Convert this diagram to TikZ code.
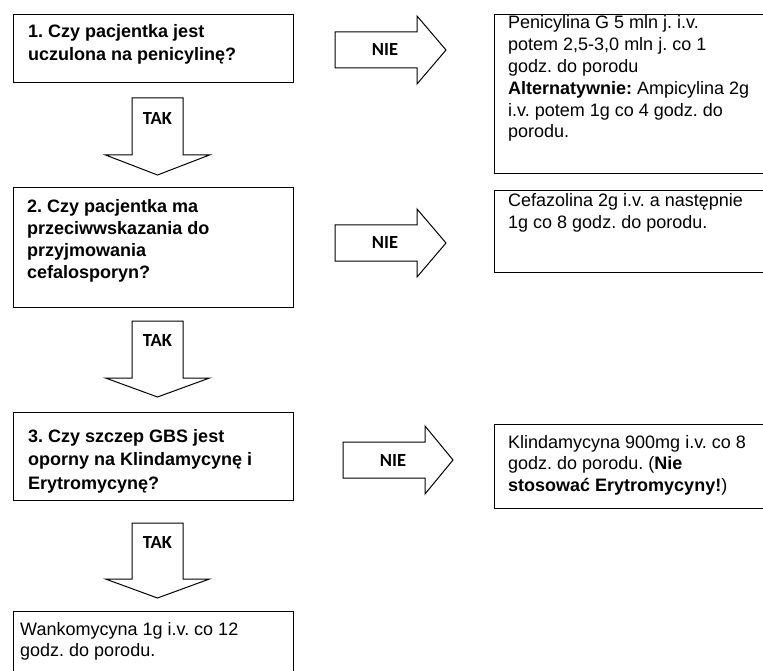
\documentclass[tikz,border=0pt]{standalone}
\usepackage{fontspec}
\setmainfont{Liberation Sans}
\newfontfamily\calfont{Carlito}
\frenchspacing
\newcommand{\boxfont}{\fontsize{18}{21.8}\selectfont}
\newcommand{\DownBlk}[4]{% x centre, y top, y head, y tip
  \draw[blk] (#1-25.5,#2) -- (#1+25.5,#2) -- (#1+25.5,#3) -- (#1+52,#3) -- (#1,#4) -- (#1-52,#3) -- (#1-25.5,#3) -- cycle;}
\newcommand{\RightBlk}[4]{% x left, x head, x tip, y centre
  \draw[blk] (#1,#4-18) -- (#2,#4-18) -- (#2,#4-34) -- (#3,#4) -- (#2,#4+34) -- (#2,#4+18) -- (#1,#4+18) -- cycle;}
\begin{document}
\begin{tikzpicture}[x=1pt,y=-1pt,
  box/.style={draw=black, line width=1pt, fill=white, inner sep=0pt, anchor=north west},
  blk/.style={draw=black, line width=1pt, fill=white, line join=miter},
  txt/.style={inner sep=0pt, anchor=base west, font=\boxfont},
  lbl/.style={inner sep=0pt, font=\calfont\bfseries\fontsize{18.5}{20}\selectfont}]
\clip (0,0) rectangle (763,671);
\fill[white] (0,0) rectangle (763,671);
% boxes
\node[box, minimum width=280pt, minimum height=68pt] (q1) at (13,14) {};
\node[box, minimum width=280pt, minimum height=120pt] (q2) at (13,187) {};
\node[box, minimum width=280pt, minimum height=88pt] (q3) at (13,412) {};
\node[box, minimum width=280pt, minimum height=80pt] (q4) at (13,611) {};
\node[box, minimum width=268.5pt, minimum height=159pt] (r1) at (494,14) {};
\node[box, minimum width=268.5pt, minimum height=82pt] (r2) at (494,190) {};
\node[box, minimum width=268.5pt, minimum height=84pt] (r3) at (494,424) {};
% texts
\node[txt] (q1t) at (28,38) {\parbox[t]{270pt}{\fontsize{18}{23}\selectfont\bfseries 1. Czy pacjentka jest\\uczulona na penicylinę?}};
\node[txt] (q2t) at (27,213) {\parbox[t]{270pt}{\bfseries 2. Czy pacjentka ma\\przeciwwskazania do\\przyjmowania\\cefalosporyn?}};
\node[txt] (q3t) at (28,442) {\parbox[t]{270pt}{\fontsize{18}{23.5}\selectfont\bfseries 3. Czy szczep GBS jest\\oporny na Klindamycynę i\\Erytromycynę?}};
\node[txt] (q4t) at (20,635) {\parbox[t]{270pt}{Wankomycyna 1g i.v. co 12\\godz. do porodu.}};
\node[txt] (r1t) at (508,29) {\parbox[t]{255pt}{Penicylina G 5 mln j. i.v.\\potem 2,5-3,0 mln j. co 1\\godz. do porodu\\\textbf{Alternatywnie:} Ampicylina 2g\\i.v. potem 1g co 4 godz. do\\porodu.}};
\node[txt] (r2t) at (508,207) {\parbox[t]{255pt}{Cefazolina 2g i.v. a następnie\\1g co 8 godz. do porodu.}};
\node[txt] (r3t) at (508,448) {\parbox[t]{255pt}{Klindamycyna 900mg i.v. co 8\\godz. do porodu. (\textbf{Nie}\\\textbf{stosować Erytromycyny!})}};
% block arrows
\DownBlk{157.5}{98}{155}{175}
\DownBlk{157.5}{321}{378}{397}
\DownBlk{157.5}{523}{579}{598}
\RightBlk{335}{417}{446}{50}
\RightBlk{335}{417}{446}{243}
\RightBlk{343}{425}{453}{460}
% labels
\node[lbl] (t1) at (157.5,119) {TAK};
\node[lbl] (t2) at (157.5,341) {TAK};
\node[lbl] (t3) at (157.5,542) {TAK};
\node[lbl] (n1) at (385,50) {NIE};
\node[lbl] (n2) at (385,243) {NIE};
\node[lbl] (n3) at (393,460) {NIE};
\end{tikzpicture}
\end{document}
